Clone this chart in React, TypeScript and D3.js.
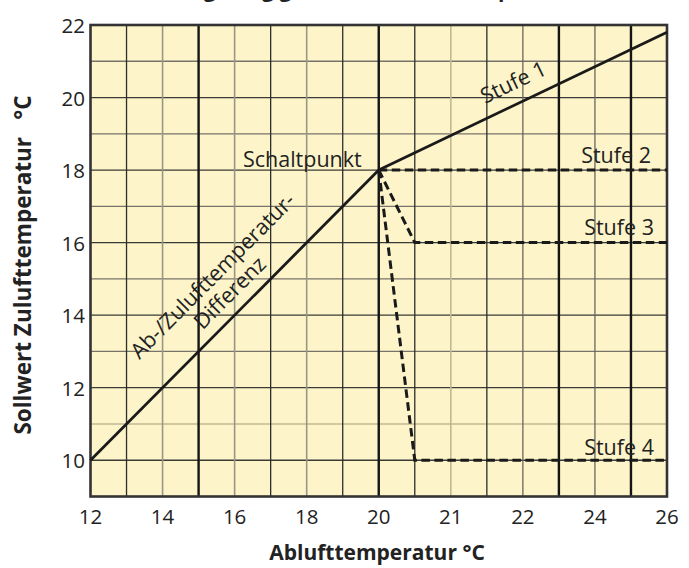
import React from "react";
import * as d3 from "d3";

// ---- data ----
const xTicks = [12, 14, 16, 18, 20, 21, 22, 24, 26];
const yTicks = [10, 12, 14, 16, 18, 20, 22];
const yGrid = [10, 11, 12, 13, 14, 15, 16, 17, 18, 19, 20, 21];
const diffLine: [number, number][] = [[12, 10], [20, 18]];
const stufe1: [number, number][] = [[20, 18], [26, 21.8]];
const stufe2: [number, number][] = [[20, 18], [26, 18]];
const stufe3: [number, number][] = [[20, 18], [20.5, 16], [26, 16]];
const stufe4: [number, number][] = [[20, 18], [20.5, 10], [26, 10]];
const schaltpunkt: [number, number] = [20, 18];

// grid column styles (17 vertical lines, index 0..16)
const colStyle = [
  "border", "dark", "gray", "thick", "gray", "dark", "gray", "dark", "thick",
  "dark", "light", "dark", "mid", "thick", "mid", "thick", "border",
];
const styleMap: Record<string, { stroke: string; width: number }> = {
  border: { stroke: "none", width: 0 },
  dark: { stroke: "#2e2e2a", width: 1.3 },
  gray: { stroke: "#9a9584", width: 1.6 },
  thick: { stroke: "#151515", width: 2.4 },
  light: { stroke: "#c2b993", width: 1.6 },
  mid: { stroke: "#6a675d", width: 1.3 },
};

const W = 689;
const H = 568;
const left = 90.5;
const right = 667;
const top = 25;
const bottom = 496.5;
const FONT = "'Open Sans', 'Noto Sans', sans-serif";

export default function App() {
  const col = d3.scaleLinear().domain([0, 16]).range([left, right]);
  const x = d3
    .scaleLinear()
    .domain(xTicks)
    .range(xTicks.map((_, i) => col(i * 2)));
  const y = d3.scaleLinear().domain([9, 22]).range([bottom, top]);
  const line = d3
    .line<[number, number]>()
    .x((d) => x(d[0]))
    .y((d) => y(d[1]));

  const dash = "8.5 4.5";
  const [sx, sy] = [x(schaltpunkt[0]), y(schaltpunkt[1])];
  const slopeAngle =
    (Math.atan2(y(stufe1[1][1]) - y(stufe1[0][1]), x(stufe1[1][0]) - x(stufe1[0][0])) * 180) /
    Math.PI;
  const diffAngle =
    (Math.atan2(y(diffLine[1][1]) - y(diffLine[0][1]), x(diffLine[1][0]) - x(diffLine[0][0])) * 180) /
    Math.PI;

  return (
    <svg
      width={W}
      height={H}
      style={{ position: "absolute", left: 0, top: 0, background: "#fff" }}
      fontFamily={FONT}
    >
      <text x={378} y={-3} textAnchor="middle" fontSize={21} fontWeight="bold" fill="#222">
        Regelung gleitender Zulufttemperatur
      </text>
      <rect x={left} y={top} width={right - left} height={bottom - top} fill="#fdf5c9" />
      {yGrid.map((v) => (
        <line
          key={"h" + v}
          x1={left}
          x2={right}
          y1={y(v)}
          y2={y(v)}
          stroke={v === 11 ? "#c2b993" : v % 2 === 0 ? "#3a3a36" : "#77736a"}
          strokeWidth={v === 11 ? 1.6 : 1.3}
        />
      ))}
      {colStyle.map((s, i) =>
        s === "border" ? null : (
          <line
            key={"v" + i}
            x1={col(i)}
            x2={col(i)}
            y1={top}
            y2={bottom}
            stroke={styleMap[s].stroke}
            strokeWidth={styleMap[s].width}
          />
        )
      )}
      <rect
        x={left}
        y={top}
        width={right - left}
        height={bottom - top}
        fill="none"
        stroke="#333"
        strokeWidth={2.6}
      />

      {/* lines */}
      <path d={line(diffLine)!} fill="none" stroke="#1a1a1a" strokeWidth={2.8} />
      <path d={line(stufe1)!} fill="none" stroke="#1a1a1a" strokeWidth={2.8} />
      <path d={line(stufe2)!} fill="none" stroke="#1a1a1a" strokeWidth={3} strokeDasharray={dash} />
      <path d={line(stufe3)!} fill="none" stroke="#1a1a1a" strokeWidth={3} strokeDasharray={dash} />
      <path d={line(stufe4)!} fill="none" stroke="#1a1a1a" strokeWidth={3} strokeDasharray={dash} />

      {/* labels */}
      <g fontSize={21.5} fill="#222">
        <text x={sx - 17} y={sy - 3} textAnchor="end">Schaltpunkt</text>
        <text transform={`translate(485,104) rotate(${slopeAngle})`}>Stufe 1</text>
        <text x={651} y={y(18) - 7} textAnchor="end">Stufe 2</text>
        <text x={654} y={y(16) - 8} textAnchor="end">Stufe 3</text>
        <text x={654} y={y(10) - 5} textAnchor="end">Stufe 4</text>
        <text transform={`translate(218,281) rotate(${diffAngle})`} textAnchor="middle">
          Ab-/Zulufttemperatur-
        </text>
        <text transform={`translate(235,298) rotate(${diffAngle})`} textAnchor="middle">
          Differenz
        </text>
      </g>

      {/* axes tick labels */}
      <g fontSize={20.5} fill="#222">
        {xTicks.map((t) => (
          <text key={"xt" + t} x={x(t)} y={524} textAnchor="middle">
            {t}
          </text>
        ))}
        {yTicks.map((t) => (
          <text key={"yt" + t} x={85} y={y(t)} textAnchor="end" dominantBaseline="central">
            {t}
          </text>
        ))}
      </g>

      <text x={377} y={560} textAnchor="middle" fontSize={21} fontWeight="bold" fill="#222">
        Ablufttemperatur °C
      </text>
      <text
        transform="translate(31,265) rotate(-90)"
        textAnchor="middle"
        fontSize={22.5}
        fontWeight="bold"
        fill="#222"
        style={{ whiteSpace: "pre" }}
      >
        {"Sollwert Zulufttemperatur   °C"}
      </text>
    </svg>
  );
}
